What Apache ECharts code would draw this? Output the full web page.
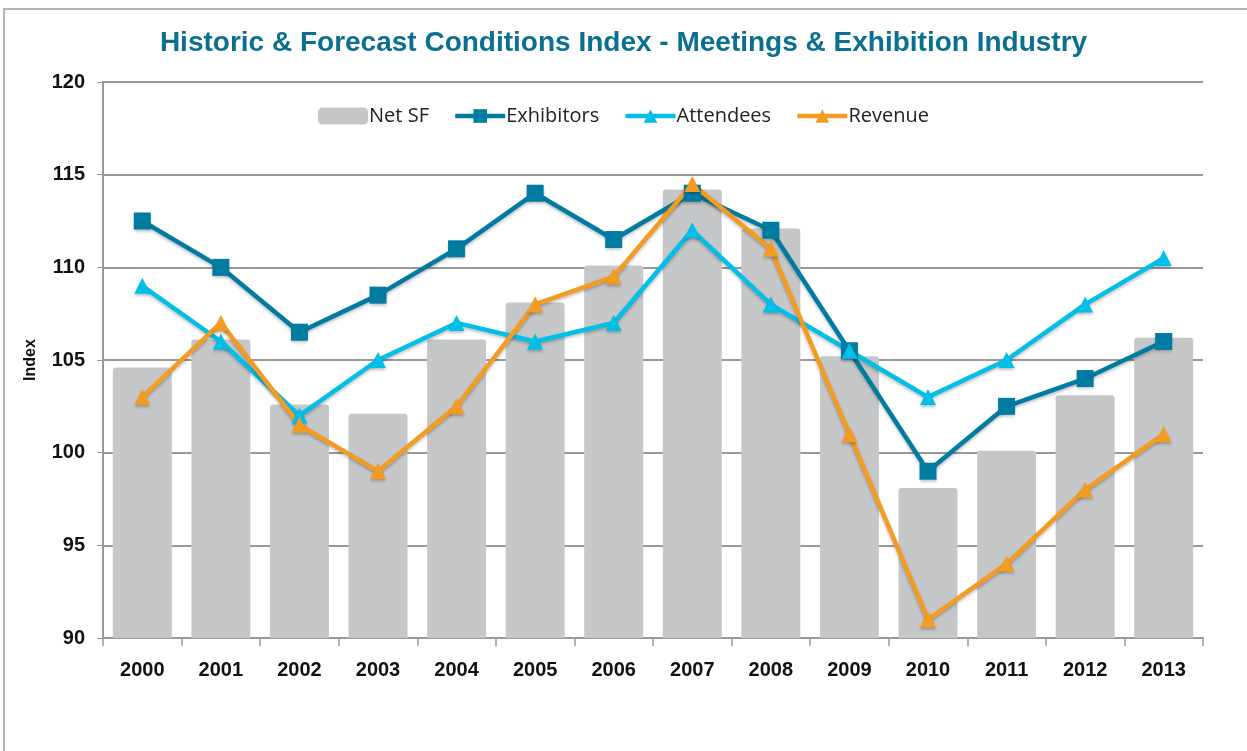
<!DOCTYPE html>
<html>
<head>
<meta charset="utf-8">
<script src="https://cdn.jsdelivr.net/npm/echarts@6/dist/echarts.min.js"></script>
<style>
  html, body { margin: 0; padding: 0; background: #fff; }
  #frame { position: absolute; left: 3px; top: 8px; width: 1300px; height: 800px;
           border-left: 2px solid #b4b4b4; border-top: 2px solid #b4b4b4; }
  #chart { position: absolute; left: 0; top: 0; width: 1247px; height: 751px; }
</style>
</head>
<body>
<div id="frame"></div>
<div id="chart"></div>
<script>
const years = ['2000', '2001', '2002', '2003', '2004', '2005', '2006', '2007', '2008', '2009', '2010', '2011', '2012', '2013'];
const netSF = [104.6, 106.1, 102.6, 102.1, 106.1, 108.1, 110.1, 114.2, 112.1, 105.2, 98.1, 100.1, 103.1, 106.2];
const exhibitors = [112.5, 110, 106.5, 108.5, 111, 114, 111.5, 114, 112, 105.5, 99, 102.5, 104, 106];
const attendees = [109, 106, 102, 105, 107, 106, 107, 112, 108, 105.5, 103, 105, 108, 110.5];
const revenue = [103, 107, 101.5, 99, 102.5, 108, 109.5, 114.5, 111, 101, 91, 94, 98, 101];

const chart = echarts.init(document.getElementById('chart'));

// shared look for the three index lines
const lineSeries = (name, data, color, symbol, size) => ({
    name, type: 'line', data,
    symbol, symbolSize: size,
    lineStyle: { width: 4.5, color, shadowColor: 'rgba(0,0,0,0.25)', shadowBlur: 3, shadowOffsetY: 2 },
    itemStyle: { color, shadowColor: 'rgba(0,0,0,0.25)', shadowBlur: 3, shadowOffsetY: 2 },
    z: 3
});

chart.setOption({
    animation: false,
    title: {
        text: 'Historic & Forecast Conditions Index - Meetings & Exhibition Industry',
        left: 'center', top: 24,
        textStyle: { color: '#0b6f90', fontSize: 28, fontWeight: 'bold', fontFamily: 'Liberation Sans, Arial' }
    },
    legend: {
        top: 101, left: 'center', itemGap: 24, itemWidth: 50, itemHeight: 17,
        lineStyle: { width: 4.5 },
        textStyle: { fontSize: 20, color: '#222', fontFamily: 'Open Sans', padding: [0, 0, 0, -4] },
        data: ['Net SF', 'Exhibitors', 'Attendees', 'Revenue']
    },
    grid: { left: 103, right: 44, top: 82, bottom: 113 },
    xAxis: {
        type: 'category', data: years,
        axisLine: { lineStyle: { color: '#999', width: 2 } },
        axisTick: { show: true, length: 8, lineStyle: { color: '#999', width: 1.5 } },
        axisLabel: { margin: 22, fontSize: 20, fontWeight: 'bold', color: '#111', fontFamily: 'Liberation Sans Narrow, Liberation Sans, Arial' }
    },
    yAxis: {
        type: 'value', min: 90, max: 120, interval: 5,
        name: 'Index', nameLocation: 'middle', nameGap: 64, nameRotate: 90,
        nameTextStyle: { fontSize: 16, fontWeight: 'bold', color: '#111', fontFamily: 'Liberation Sans, Arial' },
        axisLine: { show: true, lineStyle: { color: '#999', width: 2 } },
        axisTick: { show: true, length: 6, lineStyle: { color: '#999' } },
        splitLine: { lineStyle: { color: '#999', width: 2 } },
        axisLabel: { margin: 18, fontSize: 20, fontWeight: 'bold', color: '#111', fontFamily: 'Liberation Sans Narrow, Liberation Sans, Arial' }
    },
    series: [
        {
            name: 'Net SF', type: 'bar', data: netSF, barWidth: 59,
            itemStyle: { color: '#c6c7c9', borderRadius: [3, 3, 0, 0] },
            z: 2
        },
        lineSeries('Exhibitors', exhibitors, '#007ca2', 'rect', 17),
        lineSeries('Attendees', attendees, '#00bfe9', 'triangle', 16),
        lineSeries('Revenue', revenue, '#f49c22', 'triangle', 16)
    ]
});
</script>
</body>
</html>
